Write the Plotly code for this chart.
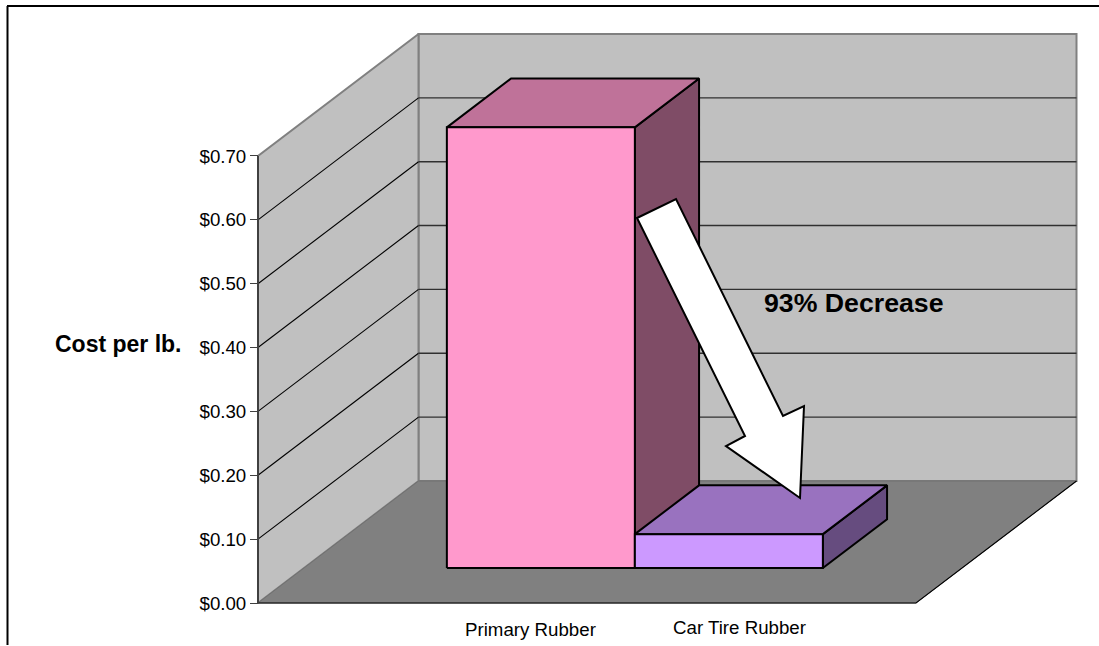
import plotly.graph_objects as go

# ---- data ----
categories = ["Primary Rubber", "Car Tire Rubber"]
cost_per_lb = [0.69, 0.053]
tick_values = [0.0, 0.1, 0.2, 0.3, 0.4, 0.5, 0.6, 0.7]
tick_labels = ["$0.00", "$0.10", "$0.20", "$0.30", "$0.40", "$0.50", "$0.60", "$0.70"]
y_title = "Cost per lb."
callout = "93% Decrease"

# ---- scene geometry (pixels on the horizontal axis, dollars on the vertical) ----
W, H = 1099, 646
ZERO_PY, PX_PER_DOLLAR = 603.0, 638.6
FLOOR_X0, FLOOR_X1 = 258.0, 916.0
DEPTH_DX, DEPTH_DPX = 160.5, 122.0
DEPTH_DV = DEPTH_DPX / PX_PER_DOLLAR
BAR_EDGES = [(400.8, 588.8), (588.8, 776.8)]
BAR_DEPTH = (0.287, 0.687)
TOP_VALUE = max(tick_values)


def val(py):
    return (ZERO_PY - py) / PX_PER_DOLLAR


def proj(x, v, d):
    return x + DEPTH_DX * d, v + DEPTH_DV * d


def poly(points):
    xs = [p[0] for p in points]
    ys = [p[1] for p in points]
    return xs + xs[:1], ys + ys[:1]


fig = go.Figure()


def face(points, fill, line, width):
    xs, ys = poly(points)
    fig.add_trace(go.Scatter(x=xs, y=ys, mode="lines", fill="toself", fillcolor=fill,
                             line=dict(color=line, width=width), hoverinfo="skip",
                             showlegend=False))


def path(points, color, width):
    fig.add_trace(go.Scatter(x=[p[0] for p in points], y=[p[1] for p in points], mode="lines",
                             line=dict(color=color, width=width), hoverinfo="skip",
                             showlegend=False))


# walls and floor
face([proj(FLOOR_X0, 0, 1), proj(FLOOR_X1, 0, 1), proj(FLOOR_X1, TOP_VALUE, 1), proj(FLOOR_X0, TOP_VALUE, 1)],
     "#C0C0C0", "#808080", 2)
face([proj(FLOOR_X0, 0, 0), proj(FLOOR_X0, 0, 1), proj(FLOOR_X0, TOP_VALUE, 1), proj(FLOOR_X0, TOP_VALUE, 0)],
     "#C0C0C0", "#808080", 2)
face([proj(FLOOR_X0, 0, 0), proj(FLOOR_X1, 0, 0), proj(FLOOR_X1, 0, 1), proj(FLOOR_X0, 0, 1)],
     "#808080", "#707070", 1)

# gridlines
for v in tick_values[1:-1]:
    path([proj(FLOOR_X0, v, 0), proj(FLOOR_X0, v, 1)], "#000000", 1.1)
    path([proj(FLOOR_X0, v, 1), proj(FLOOR_X1, v, 1)], "#303030", 1.4)

# edges of the scene
path([proj(FLOOR_X0, 0, 0), proj(FLOOR_X1, 0, 0), proj(FLOOR_X1, 0, 1)], "#000000", 1.1)
path([proj(FLOOR_X0, TOP_VALUE, 0), proj(FLOOR_X0, 0, 0)], "#404040", 2)

# bars
bar_colors = [("#FF99CC", "#BF7299", "#7F4C66"), ("#CC99FF", "#9972BF", "#664C7F")]
for (x0, x1), value, (front, top, side) in zip(BAR_EDGES, cost_per_lb, bar_colors):
    d0, d1 = BAR_DEPTH
    face([proj(x1, 0, d0), proj(x1, 0, d1), proj(x1, value, d1), proj(x1, value, d0)], side, "#000000", 2)
    face([proj(x0, value, d0), proj(x1, value, d0), proj(x1, value, d1), proj(x0, value, d1)], top, "#000000", 2)
    face([proj(x0, 0, d0), proj(x1, 0, d0), proj(x1, value, d0), proj(x0, value, d0)], front, "#000000", 2)

# callout arrow outline, in screen pixels
ARROW = [(637, 218), (676, 199), (783, 416), (804, 406), (800, 498), (726, 446), (745, 436)]
arrow_path = "M " + " L ".join(f"{x},{val(y)}" for x, y in ARROW) + " Z"

shapes = [
    dict(type="path", path=arrow_path, xref="x", yref="y", fillcolor="#FFFFFF",
         line=dict(color="#000000", width=2), layer="above"),
    dict(type="line", xref="x", yref="y", x0=7, x1=W, y0=val(6), y1=val(6),
         line=dict(color="#000000", width=2), layer="above"),
    dict(type="line", xref="x", yref="y", x0=7.5, x1=7.5, y0=val(6), y1=val(645),
         line=dict(color="#000000", width=2), layer="above"),
]

FONT = "Liberation Sans, Arial, sans-serif"
annotations = [
    dict(x=530, y=val(629), text=categories[0], font=dict(size=18.7)),
    dict(x=739, y=val(627), text=categories[1], font=dict(size=18.7)),
    dict(x=118.5, y=val(344), text=f"<b>{y_title}</b>", font=dict(size=23)),
    dict(x=854, y=val(303), text=f"<b>{callout}</b>", font=dict(size=26.7)),
]
for a in annotations:
    a.update(xref="x", yref="y", showarrow=False, xanchor="center", yanchor="middle")
    a["font"].update(family=FONT, color="#000000")

fig.update_layout(
    width=W, height=H, margin=dict(l=0, r=0, t=0, b=0, pad=0),
    paper_bgcolor="#FFFFFF", plot_bgcolor="#FFFFFF", showlegend=False,
    shapes=shapes, annotations=annotations,
    xaxis=dict(range=[0, W], domain=[0, 1], visible=False, fixedrange=True),
    yaxis=dict(range=[val(H), val(0)], domain=[0, 1], anchor="free", position=FLOOR_X0 / W,
               tickmode="array", tickvals=tick_values, ticktext=tick_labels,
               ticks="outside", ticklen=8, tickwidth=1, tickcolor="#404040",
               showgrid=False, zeroline=False, showline=False, fixedrange=True,
               tickfont=dict(family=FONT, size=18.7, color="#000000")),
)

fig.write_html("out.html", config={"displayModeBar": False},
               post_script="document.body.style.margin='0';")
